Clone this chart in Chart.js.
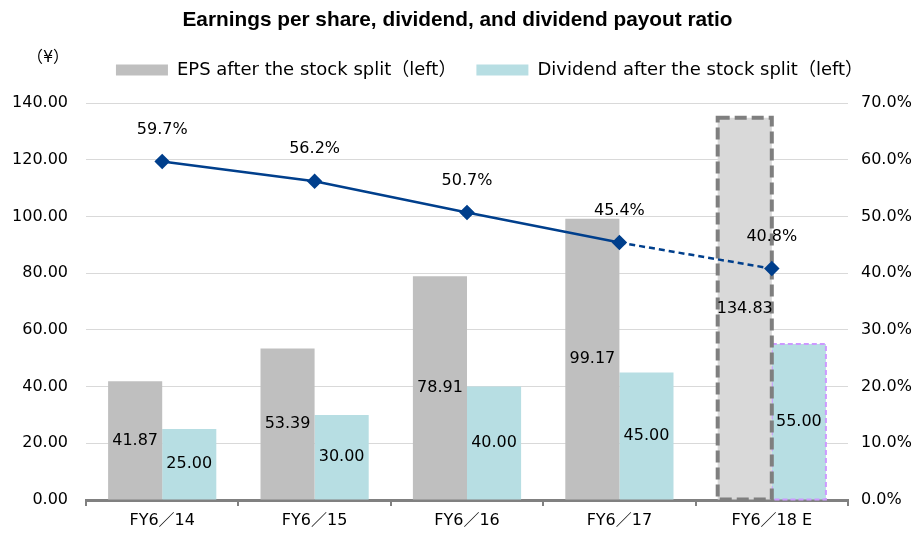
<!DOCTYPE html>
<html>
<head>
<meta charset="utf-8">
<script src="https://cdn.jsdelivr.net/npm/chart.js@4.4.0/dist/chart.umd.min.js"></script>
<style>
  html, body { margin: 0; padding: 0; background: #fff; }
  #wrap { width: 915px; height: 533px; }
</style>
</head>
<body>
<div id="wrap"><canvas id="epsChart"></canvas></div>
<script>
var labels = ["FY6／14", "FY6／15", "FY6／16", "FY6／17", "FY6／18 E"];
var epsData = [41.87, 53.39, 78.91, 99.17, 134.83];
var dividendData = [25.00, 30.00, 40.00, 45.00, 55.00];
var payoutData = [59.7, 56.2, 50.7, 45.4, 40.8];

var FONT = "'DejaVu Sans', 'Noto Sans CJK JP', sans-serif";
var TITLE_FONT = "'Liberation Sans', 'Noto Sans CJK JP', sans-serif";

// value labels + dashed outlines for the forecast bars
var labelPlugin = {
    id: "valueLabels",
    afterLayout: function (chart) {
        // legend in the original sits a little right of centre
        if (chart.legend) {
            chart.legend.left += 32;
            chart.legend.right += 32;
        }
    },
    afterDatasetDraw: function (chart, args) {
        var meta = args.meta;
        if (meta.type !== "bar") return;
        var ctx = chart.ctx;
        var last = meta.data[meta.data.length - 1];
        var p = last.getProps(["x", "y", "base", "width"], true);
        ctx.save();
        if (args.index === 0) {
            ctx.strokeStyle = "#7f7f7f";
            ctx.lineWidth = 4;
            ctx.setLineDash([12, 5]);
        } else {
            ctx.strokeStyle = "#cc99ff";
            ctx.lineWidth = 2;
            ctx.setLineDash([5, 3]);
        }
        ctx.strokeRect(p.x - p.width / 2, p.y, p.width, p.base - p.y);
        ctx.restore();
    },
    afterDatasetsDraw: function (chart) {
        var ctx = chart.ctx;
        ctx.save();
        ctx.fillStyle = "#000";
        ctx.font = "16px " + FONT;
        ctx.textAlign = "center";
        ctx.textBaseline = "middle";
        chart.data.datasets.forEach(function (ds, i) {
            var meta = chart.getDatasetMeta(i);
            meta.data.forEach(function (el, j) {
                var p = el.getProps(["x", "y", "base"], true);
                if (meta.type === "bar") {
                    ctx.fillText(ds.data[j].toFixed(2), p.x, (p.y + p.base) / 2);
                } else {
                    ctx.fillText(ds.data[j].toFixed(1) + "%", p.x, p.y - 32);
                }
            });
        });
        // unit label
        ctx.fillText("（¥）", chart.chartArea.left - 38, chart.chartArea.top - 45);
        ctx.restore();
    }
};

var config = {
    type: "bar",
    data: {
        labels: labels,
        datasets: [
            {
                label: "EPS after the stock split（left）",
                data: epsData,
                backgroundColor: ["#bfbfbf", "#bfbfbf", "#bfbfbf", "#bfbfbf", "#d9d9d9"],
                yAxisID: "y",
                order: 1,
                categoryPercentage: 0.71,
                barPercentage: 1.0
            },
            {
                label: "Dividend after the stock split（left）",
                data: dividendData,
                backgroundColor: "#b7dee3",
                yAxisID: "y",
                order: 1,
                categoryPercentage: 0.71,
                barPercentage: 1.0
            },
            {
                type: "line",
                label: "Dividend payout ratio (right)",
                data: payoutData,
                yAxisID: "y1",
                order: 0,
                borderColor: "#003f8c",
                backgroundColor: "#003f8c",
                borderWidth: 2.5,
                pointStyle: "rectRot",
                pointRadius: 6,
                pointHoverRadius: 6,
                tension: 0,
                segment: {
                    borderDash: function (c) { return c.p1DataIndex === 4 ? [6, 4] : undefined; }
                }
            }
        ]
    },
    options: {
        responsive: true,
        maintainAspectRatio: false,
        animation: false,
        layout: { padding: { left: 0, right: 0, top: 0, bottom: 0 } },
        plugins: {
            title: {
                display: true,
                text: "Earnings per share, dividend, and dividend payout ratio",
                color: "#000",
                font: { family: TITLE_FONT, size: 20.8, weight: "bold" },
                padding: { top: 8, bottom: 8 }
            },
            // empty subtitle used as a spacer between legend and plot
            subtitle: {
                display: true,
                text: " ",
                weight: 500,
                font: { size: 11.7 },
                padding: 0
            },
            legend: {
                display: true,
                labels: {
                    color: "#000",
                    font: { family: FONT, size: 18 },
                    boxWidth: 52,
                    boxHeight: 11,
                    padding: 20,
                    filter: function (item) { return item.datasetIndex < 2; }
                }
            },
            tooltip: { enabled: false }
        },
        scales: {
            x: {
                grid: {
                    display: true,
                    drawOnChartArea: false,
                    drawTicks: true,
                    tickLength: 6,
                    color: "#808080",
                    lineWidth: 2,
                    offset: true
                },
                border: { display: true, color: "#808080", width: 3 },
                ticks: { color: "#000", font: { family: FONT, size: 16 }, padding: 5 },
                afterFit: function (s) { s.height = 33; }
            },
            y: {
                position: "left",
                min: 0,
                max: 140,
                ticks: {
                    stepSize: 20,
                    color: "#000",
                    font: { family: FONT, size: 16 },
                    padding: 18,
                    callback: function (v) { return v.toFixed(2); }
                },
                grid: { color: "#d9d9d9", lineWidth: 1, drawTicks: false },
                border: { display: false },
                afterFit: function (s) { s.width = 86; }
            },
            y1: {
                position: "right",
                min: 0,
                max: 70,
                ticks: {
                    stepSize: 10,
                    color: "#000",
                    font: { family: FONT, size: 16 },
                    padding: 13,
                    callback: function (v) { return v.toFixed(1) + "%"; }
                },
                grid: { display: false, drawTicks: false },
                border: { display: false },
                afterFit: function (s) { s.width = 67; }
            }
        }
    },
    plugins: [labelPlugin]
};

var ctx = document.getElementById("epsChart").getContext("2d");
var chart = new Chart(ctx, config);
</script>
</body>
</html>
